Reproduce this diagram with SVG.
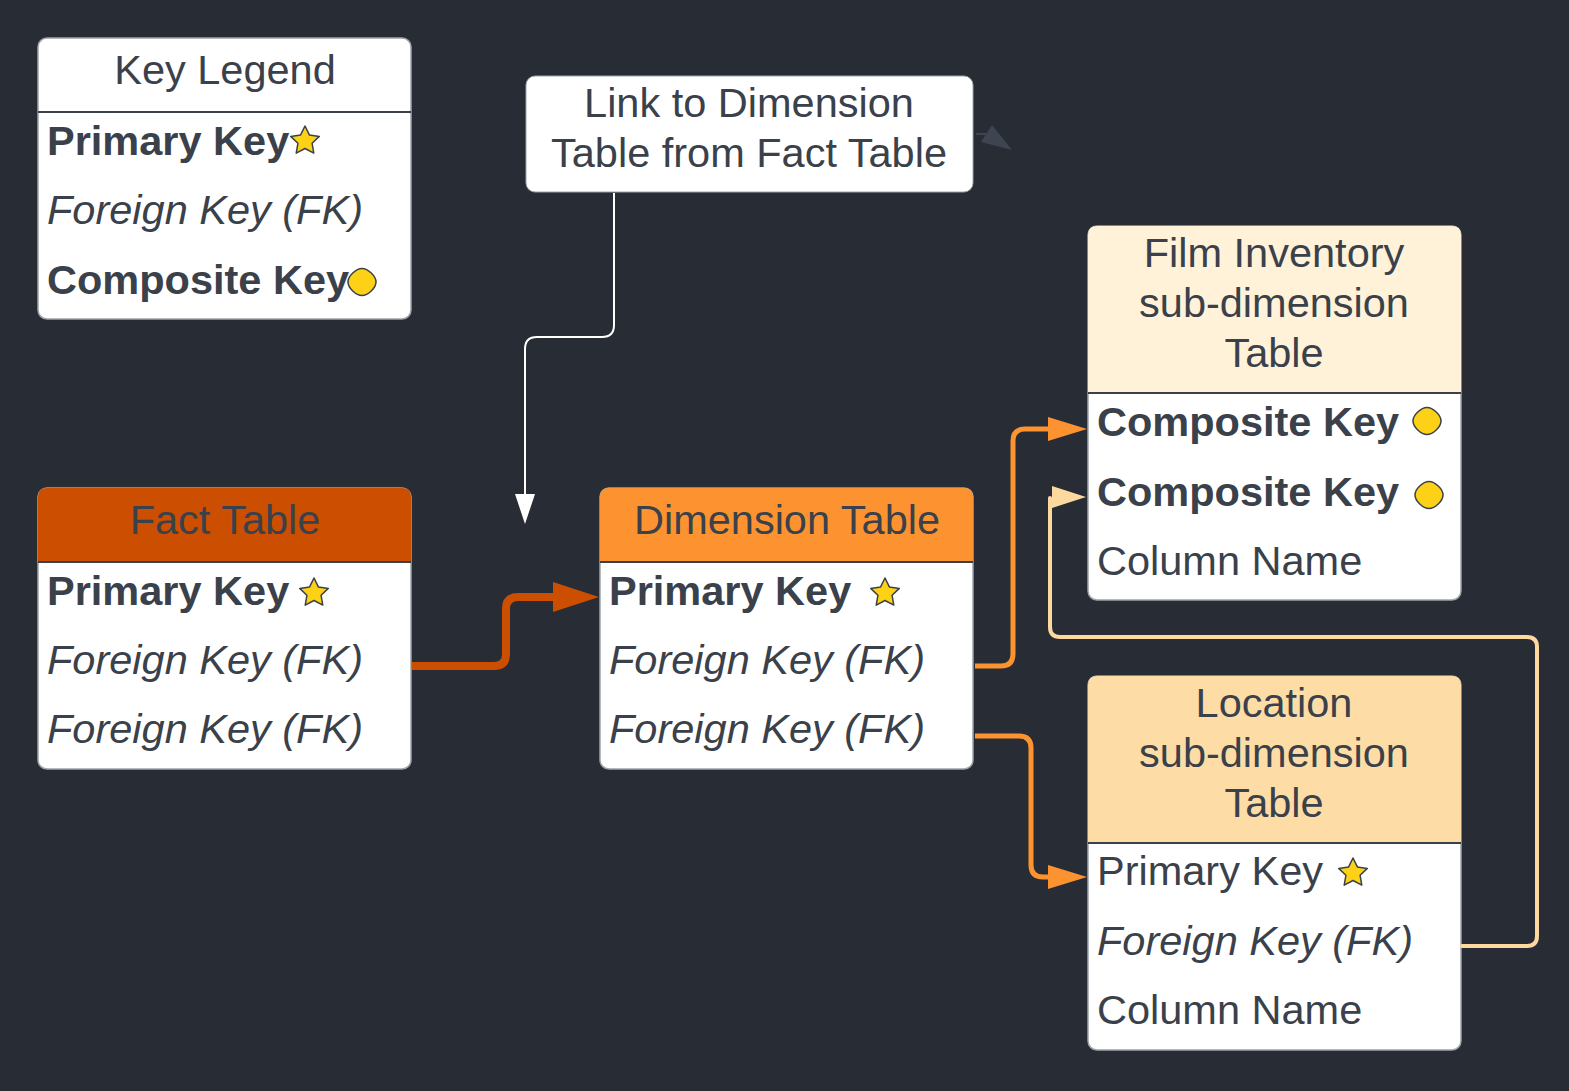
<svg xmlns="http://www.w3.org/2000/svg" width="1569" height="1091" viewBox="0 0 1569 1091">
<defs>
<style>
.box{fill:#ffffff;stroke:#9ea3a9;stroke-width:1.5}
.div{stroke:#3a414a;stroke-width:2}
text{font-family:"Liberation Sans",Arial,sans-serif;font-size:41.5px;fill:#3a414a}
.t{text-anchor:middle}
.b{font-weight:bold}
.i{font-style:italic}
.star,.dot{fill:#fcd116;stroke:#3a414a;stroke-width:1.5;stroke-linejoin:round}
.c{fill:none;stroke-linejoin:round}
</style>
<polygon id="star" class="star" points="0,-15 4.4,-6.1 14.3,-4.6 7.1,2.3 8.8,12.1 0,7.5 -8.8,12.1 -7.1,2.3 -14.3,-4.6 -4.4,-6.1"/>
<path id="dot" class="dot" d="M-14,0 C-14,-6 -6,-13.5 0,-13.5 C6,-13.5 14,-6 14,0 C14,6 6,13.5 0,13.5 C-6,13.5 -14,6 -14,0 Z"/>
</defs>
<rect width="1569" height="1091" fill="#282c34"/>

<g id="key-legend">
<rect class="box" x="38" y="38" width="373" height="281" rx="9"/>
<line class="div" x1="38" y1="112" x2="411" y2="112"/>
<text class="t" x="225" y="84">Key Legend</text>
<text class="b" x="47" y="155">Primary Key</text>
<use href="#star" x="305" y="141"/>
<text class="i" x="47" y="224">Foreign Key (FK)</text>
<text class="b" x="47" y="294">Composite Key</text>
<use href="#dot" x="362" y="282"/>
</g>

<g id="link-note">
<rect x="526" y="76" width="447" height="116" rx="9" fill="#ffffff" stroke="#9ea3a9" stroke-width="1"/>
<text class="t" x="749" y="117">Link to Dimension</text>
<text class="t" x="749" y="167">Table from Fact Table</text>
</g>

<g id="stray-arrow">
<line x1="976" y1="134" x2="986" y2="134" stroke="#3e4550" stroke-width="2"/>
<polygon points="992,125 981,142 1012,150" fill="#3e4550"/>
</g>

<g id="fact-table">
<rect class="box" x="38" y="488" width="373" height="281" rx="9"/>
<path d="M38,562 V497 Q38,488 47,488 H402 Q411,488 411,497 V562 Z" fill="#cc4e00"/>
<line class="div" x1="38" y1="562" x2="411" y2="562"/>
<text class="t" x="225" y="534">Fact Table</text>
<text class="b" x="47" y="605">Primary Key</text>
<use href="#star" x="314" y="593"/>
<text class="i" x="47" y="674">Foreign Key (FK)</text>
<text class="i" x="47" y="743">Foreign Key (FK)</text>
</g>

<g id="dimension-table">
<rect class="box" x="600" y="488" width="373" height="281" rx="9"/>
<path d="M600,562 V497 Q600,488 609,488 H964 Q973,488 973,497 V562 Z" fill="#fd9330"/>
<line class="div" x1="600" y1="562" x2="973" y2="562"/>
<text class="t" x="787" y="534">Dimension Table</text>
<text class="b" x="609" y="605">Primary Key</text>
<use href="#star" x="885" y="593"/>
<text class="i" x="609" y="674">Foreign Key (FK)</text>
<text class="i" x="609" y="743">Foreign Key (FK)</text>
</g>

<g id="film-inventory">
<rect class="box" x="1088" y="226" width="373" height="374" rx="9"/>
<path d="M1088,393 V235 Q1088,226 1097,226 H1452 Q1461,226 1461,235 V393 Z" fill="#fff2d9"/>
<line class="div" x1="1088" y1="393" x2="1461" y2="393"/>
<text class="t" x="1274" y="267">Film Inventory</text>
<text class="t" x="1274" y="317">sub-dimension</text>
<text class="t" x="1274" y="367">Table</text>
<text class="b" x="1097" y="436">Composite Key</text>
<use href="#dot" x="1427" y="421"/>
<text class="b" x="1097" y="506">Composite Key</text>
<use href="#dot" x="1429" y="495"/>
<text x="1097" y="575">Column Name</text>
</g>

<g id="location">
<rect class="box" x="1088" y="676" width="373" height="374" rx="9"/>
<path d="M1088,843 V685 Q1088,676 1097,676 H1452 Q1461,676 1461,685 V843 Z" fill="#fddca6"/>
<line class="div" x1="1088" y1="843" x2="1461" y2="843"/>
<text class="t" x="1274" y="717">Location</text>
<text class="t" x="1274" y="767">sub-dimension</text>
<text class="t" x="1274" y="817">Table</text>
<text x="1097" y="885">Primary Key</text>
<use href="#star" x="1353" y="873"/>
<text class="i" x="1097" y="955">Foreign Key (FK)</text>
<text x="1097" y="1024">Column Name</text>
</g>

<g id="connectors">
<path class="c" d="M614,193 V325 Q614,337 602,337 H537 Q525,337 525,349 V496" stroke="#ffffff" stroke-width="2"/>
<polygon points="515,494 525,524 535,494" fill="#ffffff"/>

<path class="c" d="M412,666 H494 Q506,666 506,654 V609 Q506,597 518,597 H556" stroke="#cc4e00" stroke-width="8"/>
<polygon points="553,582 599,597 553,612" fill="#cc4e00"/>

<path class="c" d="M975,666 H1001 Q1013,666 1013,654 V441 Q1013,429 1025,429 H1050" stroke="#fd9330" stroke-width="5"/>
<polygon points="1048,417 1087,429 1048,441" fill="#fd9330"/>

<path class="c" d="M975,736 H1019 Q1031,736 1031,748 V865 Q1031,877 1043,877 H1050" stroke="#fd9330" stroke-width="5"/>
<polygon points="1048,865 1087,877 1048,889" fill="#fd9330"/>

<path class="c" d="M1462,946 H1527 Q1537,946 1537,936 V647 Q1537,637 1527,637 H1060 Q1050,637 1050,627 V498" stroke="#fdd9a0" stroke-width="4" stroke-linecap="round"/>
<polygon points="1052,486 1086,497 1052,508" fill="#fdd9a0"/>
</g>
</svg>
